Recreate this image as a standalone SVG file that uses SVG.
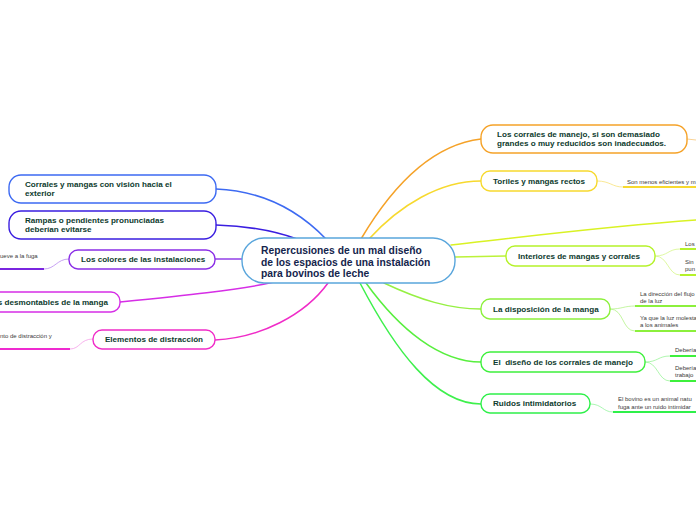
<svg xmlns="http://www.w3.org/2000/svg" width="696" height="520" viewBox="0 0 696 520">
<style>
.n{fill:#fff;stroke-width:1.4}
.t{font-family:"Liberation Sans",Arial,sans-serif;font-weight:bold;font-size:8.1px;fill:#0e3b2e}
.c{font-family:"Liberation Sans",Arial,sans-serif;font-weight:bold;font-size:10.3px;fill:#14244c}
.s{font-family:"Liberation Sans",Arial,sans-serif;font-size:6px;fill:#3a3a3a}
.l{fill:none;stroke-width:1.5;stroke-linecap:round}
.u{fill:none;stroke-width:2}
.k{fill:none;stroke-width:0.8}
</style>
<rect width="696" height="520" fill="#fff"/>
<g id="connectors">
<path class="l" stroke="#3d6af2" d="M216,189 C265,191 300,212 326,239"/>
<path class="l" stroke="#3a1ee0" d="M216,225 C250,226 275,231 297,239"/>
<path class="l" stroke="#9340e8" d="M215,259 L243,259"/>
<path class="l" stroke="#d62ee6" d="M120,302 C180,296 240,290 274,282"/>
<path class="l" stroke="#f02cc8" d="M215,340 C260,338 305,315 328,283"/>
<path class="l" stroke="#f5a228" d="M361,239 C390,190 430,145 481,139"/>
<path class="l" stroke="#f7d92e" d="M369,239 C400,205 440,181 481,181"/>
<path class="l" stroke="#d9f224" d="M451,245 C530,236 610,226 696,220"/>
<path class="l" stroke="#bcf23a" d="M455,257 L506,256"/>
<path class="l" stroke="#96f043" d="M384,283 C420,300 450,309 481,309"/>
<path class="l" stroke="#58ef3e" d="M366,283 C400,330 440,362 481,362"/>
<path class="l" stroke="#3ef04c" d="M360,283 C395,350 435,404 481,404"/>
<path class="k" stroke="#b98af0" d="M69,259 C57,259 55,269 44,269"/>
<path class="u" stroke="#7a25e0" d="M0,269 L44,269"/>
<path class="k" stroke="#f5a0e8" d="M93,339 C80,339 80,349 70,349"/>
<path class="u" stroke="#ef2ad0" d="M0,349 L70,349"/>
<path class="k" stroke="#f8c77a" d="M687,139 L696,140"/>
<path class="k" stroke="#f7e27a" d="M597,181 C610,181 612,187 623,187"/>
<path class="u" stroke="#f7d92e" d="M623,187 L696,187"/>
<path class="k" stroke="#d6f68a" d="M655,256 C668,256 668,249 680,249"/>
<path class="u" stroke="#b5f22a" d="M680,249 L696,249"/>
<path class="k" stroke="#d6f68a" d="M655,256 C668,256 668,275 680,275"/>
<path class="u" stroke="#b5f22a" d="M680,275 L696,275"/>
<path class="k" stroke="#b5f38a" d="M610,309 C622,309 624,306 635,306"/>
<path class="u" stroke="#8cf03c" d="M635,306 L696,306"/>
<path class="k" stroke="#b5f38a" d="M610,309 C624,309 622,331 635,331"/>
<path class="u" stroke="#8cf03c" d="M635,331 L696,331"/>
<path class="k" stroke="#9cf49a" d="M645,362 C658,362 658,356 670,356"/>
<path class="u" stroke="#3ef03c" d="M670,356 L696,356"/>
<path class="k" stroke="#9cf49a" d="M645,362 C658,362 658,381 670,381"/>
<path class="u" stroke="#3ef03c" d="M670,381 L696,381"/>
<path class="k" stroke="#96f4a0" d="M590,404 C602,404 603,412 613,412"/>
<path class="u" stroke="#2ef04a" d="M613,412 L696,412"/>
</g>
<g id="center">
<rect class="n" x="242" y="238" width="213" height="45" rx="22" stroke="#5aa6dc"/>
<text class="c" x="261" y="254">Repercusiones de un mal diseño</text>
<text class="c" x="261" y="266">de los espacios de una instalación</text>
<text class="c" x="261" y="277">para bovinos de leche</text>
</g>
<g id="n-vision">
<rect class="n" x="9" y="175" width="207" height="28" rx="12" stroke="#3d6af2"/>
<text class="t" x="25" y="187">Corrales y mangas con visión hacia el</text>
<text class="t" x="25" y="196">exterior</text>
</g>
<g id="n-rampas">
<rect class="n" x="9" y="211" width="207" height="28" rx="12" stroke="#3a1ee0"/>
<text class="t" x="25" y="223">Rampas o pendientes pronunciadas</text>
<text class="t" x="25" y="232">deberían evitarse</text>
</g>
<g id="n-colores">
<rect class="n" x="69" y="250" width="146" height="19" rx="9" stroke="#8a2ee6"/>
<text class="t" x="81" y="262">Los colores de las instalaciones</text>
<text class="s" x="0" y="258">ueve a la fuga</text>
</g>
<g id="n-desmontables">
<rect class="n" x="-20" y="292" width="140" height="20" rx="9" stroke="#d62ee6"/>
<text class="t" x="108" y="305" text-anchor="end">s desmontables de la manga</text>
</g>
<g id="n-distraccion">
<rect class="n" x="93" y="330" width="122" height="19" rx="9" stroke="#f02cc8"/>
<text class="t" x="154" y="342" text-anchor="middle">Elementos de distracción</text>
<text class="s" x="0" y="338">nto de distracción y</text>
</g>
<g id="n-corrales">
<rect class="n" x="481" y="125" width="206" height="28" rx="12" stroke="#f5a228"/>
<text class="t" x="497" y="137">Los corrales de manejo, si son demasiado</text>
<text class="t" x="497" y="146">grandes o muy reducidos son inadecuados.</text>
</g>
<g id="n-toriles">
<rect class="n" x="481" y="171" width="116" height="20" rx="9" stroke="#f7d92e"/>
<text class="t" x="493" y="184">Toriles y mangas rectos</text>
<text class="s" x="627" y="184">Son menos eficientes y m</text>
</g>
<g id="n-interiores">
<rect class="n" x="506" y="246" width="149" height="20" rx="9" stroke="#b5f22a"/>
<text class="t" x="518" y="259">Interiores de mangas y corrales</text>
<text class="s" x="685" y="246">Los</text>
<text class="s" x="685" y="264">Sin</text>
<text class="s" x="685" y="271">pun</text>
</g>
<g id="n-disposicion">
<rect class="n" x="481" y="299" width="129" height="20" rx="9" stroke="#8cf03c"/>
<text class="t" x="493" y="312">La disposición de la manga</text>
<text class="s" x="640" y="296">La dirección del flujo</text>
<text class="s" x="640" y="303">de la luz</text>
<text class="s" x="640" y="320">Ya que la luz molesta</text>
<text class="s" x="640" y="327">a los animales</text>
</g>
<g id="n-diseno">
<rect class="n" x="481" y="352" width="164" height="20" rx="9" stroke="#3ef03c"/>
<text class="t" x="493" y="365" xml:space="preserve">El  diseño de los corrales de manejo</text>
<text class="s" x="675" y="352">Debería</text>
<text class="s" x="675" y="370">Debería</text>
<text class="s" x="675" y="377">trabajo</text>
</g>
<g id="n-ruidos">
<rect class="n" x="481" y="394" width="109" height="19" rx="9" stroke="#2ef04a"/>
<text class="t" x="493" y="406">Ruidos intimidatorios</text>
<text class="s" x="618" y="401">El bovino es un animal natu</text>
<text class="s" x="618" y="409">fuga ante un ruido intimidar</text>
</g>
</svg>
